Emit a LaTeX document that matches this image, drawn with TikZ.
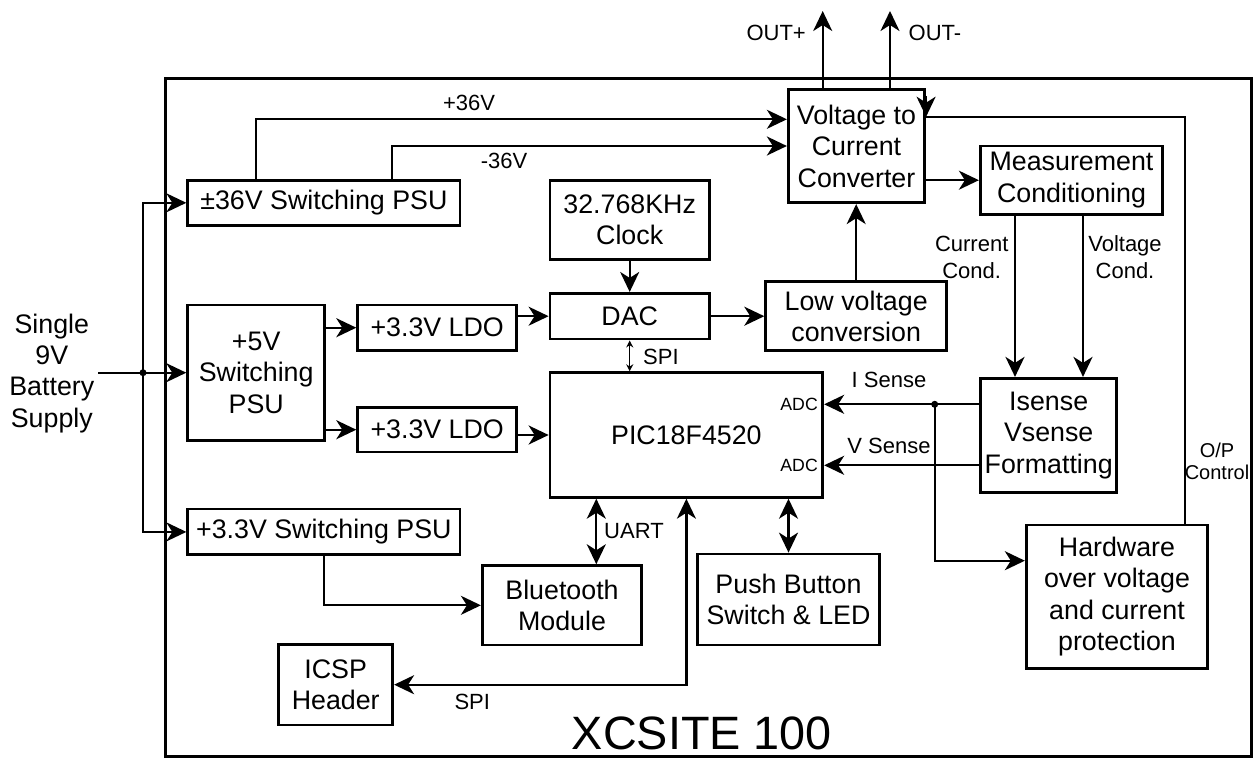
\documentclass[tikz,border=0pt]{standalone}
\usepackage{fontspec}
\setmainfont{Liberation Sans}
\usetikzlibrary{arrows.meta,calc}

\begin{document}
\begin{tikzpicture}[x=1pt,y=-1pt,
  box/.style={draw, line width=2.8pt, inner sep=0pt, align=center,
              font=\fontsize{26.8}{31.5}\selectfont},
  conn/.style={line width=2.2pt},
  tip/.tip={Stealth[length=20pt,width=19pt,inset=6pt]},
  arr/.style={conn, -tip},
  dbl/.style={conn, tip-tip},
  thindbl/.style={line width=1.5pt, {Stealth[length=7pt,width=7pt]}-{Stealth[length=7pt,width=7pt]}},
  lbl/.style={inner sep=0pt, align=center, font=\fontsize{22}{27}\selectfont},
  dot/.style={fill, circle, inner sep=0pt, minimum size=7pt}
]
\useasboundingbox (0,0) rectangle (1254,758);

% enclosure
\draw[line width=3pt] (165.5,78.3) rectangle (1251.5,756);
\node[inner sep=0pt, anchor=base, font=\fontsize{46.8}{50}\selectfont] (title) at (702,749.5) {XCSITE 100};

% power supplies
\node[box, minimum width=272.3pt, minimum height=45pt]   (psu36) at (323.9,202.8) {±36V Switching PSU};
\node[box, minimum width=137pt,   minimum height=135.7pt] (psu5) at (256.2,372.9) {+5V\\Switching\\PSU};
\node[box, minimum width=159pt,   minimum height=45.3pt] (ldo1)  at (437.2,327.7) {+3.3V LDO};
\node[box, minimum width=159pt,   minimum height=44.7pt] (ldo2)  at (437.2,429.7) {+3.3V LDO};
\node[box, minimum width=272.3pt, minimum height=45.7pt] (psu33) at (323.9,531.9) {+3.3V Switching PSU};

% signal chain
\node[box, minimum width=159.4pt, minimum height=79pt]    (clock) at (629.7,219.8) {32.768KHz\\Clock};
\node[box, minimum width=159.4pt, minimum height=45.7pt]  (dac)   at (629.7,316.2) {DAC};
\node[box, minimum width=272.7pt, minimum height=124.6pt] (pic)   at (686.4,435)   {PIC18F4520};
\node[box, minimum width=136.4pt, minimum height=113.4pt] (conv)  at (856.5,146)   {Voltage to\\Current\\Converter};
\node[box, minimum width=182.4pt, minimum height=68.3pt]  (meas)  at (1071.5,180.2) {Measurement\\Conditioning};
\node[box, minimum width=181pt,   minimum height=69pt]    (lowv)  at (856.2,316.2) {Low voltage\\conversion};
\node[box, minimum width=136pt,   minimum height=114pt]   (isense) at (1048.7,435.3) {Isense\\Vsense\\Formatting};
\node[box, minimum width=181.5pt, minimum height=143.3pt] (hw)    at (1117,596.7) {Hardware\\over voltage\\and current\\protection};
\node[box, minimum width=182pt,   minimum height=91pt]    (push)  at (788.5,599.5) {Push Button\\Switch \& LED};
\node[box, minimum width=159.4pt, minimum height=79.3pt]  (bt)    at (562,605.3)   {Bluetooth\\Module};
\node[box, minimum width=114pt,   minimum height=80.7pt]  (icsp)  at (335.7,684.7) {ICSP\\Header};

% battery input and distribution bus
\node[inner sep=0pt, align=center, font=\fontsize{26.8}{31.2}\selectfont] (batt) at (51.8,373.4) {Single\\9V\\Battery\\Supply};
\coordinate (src) at (98,372.7);
\coordinate (jin) at (143,372.7);
\draw[arr] (src) -- (psu5.west |- src);
\draw[arr] (jin) |- (psu36.west);
\draw[arr] (jin) |- (psu33.west);
\node[dot] at (jin) {};

% +/-36V rails
\coordinate (p36) at (256.3,119.3);
\coordinate (m36) at (392,146);
\draw[arr] (psu36.north -| p36) |- (conv.west |- p36);
\draw[arr] (psu36.north -| m36) |- (conv.west |- m36);
\node[lbl] (lp36) at (469,103.3) {+36V};
\node[lbl] (lm36) at (504,161) {-36V};

% outputs
\coordinate (outp) at (822.7,11);
\coordinate (outm) at (890,11);
\draw[arr] (conv.north -| outp) -- (outp);
\draw[arr] (conv.north -| outm) -- (outm);
\node[lbl, anchor=east] (loutp) at (806,33.3) {OUT+};
\node[lbl, anchor=west] (loutm) at (908.5,33.3) {OUT-};

% low-voltage rails
\draw[arr] (psu5.east |- ldo1.west) -- (ldo1.west);
\draw[arr] (psu5.east |- ldo2.west) -- (ldo2.west);
\draw[arr] (ldo1.east |- dac.west) -- (dac.west);
\draw[arr] (ldo2.east |- pic.west) -- (pic.west);

% DAC path
\draw[arr] (clock) -- (dac);
\draw[thindbl] (dac) -- (pic.north -| dac);
\node[lbl, anchor=west] (lspi) at (643,356.7) {SPI};
\draw[arr] (dac) -- (lowv);
\draw[arr] (lowv.north) -- (conv.south -| lowv.north);
\draw[arr] (conv.east |- meas.west) -- (meas.west);

% conditioning to formatting
\coordinate (ccx) at (1015,0);
\coordinate (vcx) at (1083,0);
\draw[arr] (meas.south -| ccx) -- (isense.north -| ccx);
\draw[arr] (meas.south -| vcx) -- (isense.north -| vcx);
\node[lbl] (lcc) at (971.7,257.5) {Current\\Cond.};
\node[lbl] (lvc) at (1125,257.5) {Voltage\\Cond.};

% sense lines into the ADC inputs
\coordinate (isy) at (0,404.3);
\coordinate (vsy) at (0,465.3);
\coordinate (jis) at (934.7,404.3);
\coordinate (hwy) at (0,560.7);
\draw[arr] (isense.west |- isy) -- (pic.east |- isy);
\draw[arr] (isense.west |- vsy) -- (pic.east |- vsy);
\draw[arr] (jis) |- (hw.west |- hwy);
\node[dot] at (jis) {};
\node[lbl] (lis) at (889,380) {I Sense};
\node[lbl] (lvs) at (889,445.7) {V Sense};
\node[inner sep=0pt, anchor=east, font=\fontsize{17.7}{20}\selectfont] (adc1) at (818,404.3) {ADC};
\node[inner sep=0pt, anchor=east, font=\fontsize{17.7}{20}\selectfont] (adc2) at (818,465.3) {ADC};

% output control from protection back to the converter
\coordinate (opc) at (1185,116.7);
\draw[conn] (hw.north -| opc) |- (conv.east |- opc);
\draw[arr] ($(conv.north east)+(0,8)$) -- (conv.east |- opc);
\node[inner sep=0pt, align=center, font=\fontsize{20}{21.7}\selectfont] (lop) at (1217,461) {O/P\\Control};

% peripherals
\coordinate (ux) at (596.3,0);
\coordinate (bx) at (324.3,0);
\draw[dbl] (pic.south -| ux) -- (bt.north -| ux);
\node[lbl, anchor=west] (luart) at (604,531) {UART};
\draw[dbl] (pic.south -| push.north) -- (push.north);
\draw[arr] (psu33.south -| bx) |- (bt.west);
\draw[dbl] (icsp.east) -| (pic.south);
\node[lbl] (lspi2) at (472.3,701.7) {SPI};
\end{tikzpicture}
\end{document}
